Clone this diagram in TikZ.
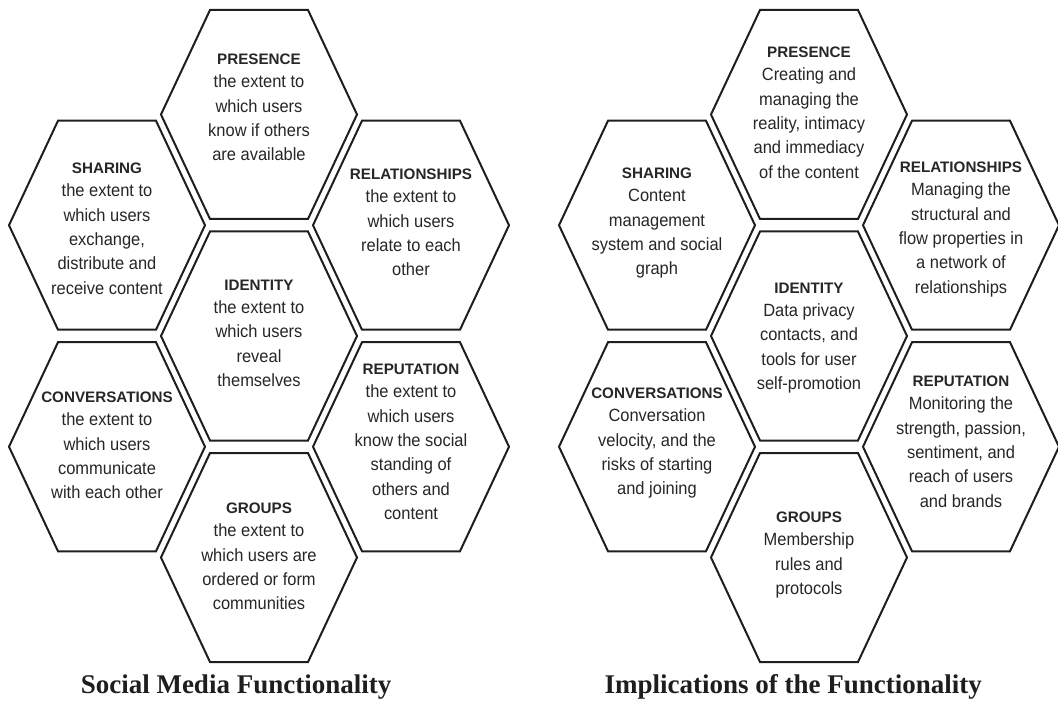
\documentclass[tikz,border=0pt]{standalone}
\usepackage{fontspec}
\setmainfont{Liberation Sans}
\newfontfamily\cellfam[FakeStretch=0.93]{Liberation Sans}
\newfontfamily\headfam{Liberation Sans}
\newfontfamily\titlefam{Liberation Serif}
\definecolor{ink}{HTML}{1E1E1E}
\definecolor{txt}{HTML}{262626}

% one honeycomb cell: name, centre x, centre y, top of heading, text
\newcommand\hexcell[5]{%
  \draw[hexedge] (#2-98,#3) -- (#2-49,#3-104.5) -- (#2+49,#3-104.5)
    -- (#2+98,#3) -- (#2+49,#3+104.5) -- (#2-49,#3+104.5) -- cycle;
  \node[hextext] (#1) at (#2,#4) {#5};
}
\newcommand\hd[1]{{\headfam\bfseries\fontsize{15.2}{24.4}\selectfont #1}\\[-1.5pt]}

\begin{document}
\begin{tikzpicture}[x=1pt,y=-1pt,
  hexedge/.style={draw=ink,line width=2pt,line join=miter},
  hextext/.style={anchor=north,align=center,inner sep=0pt,text=txt,
    font=\cellfam\fontsize{17.7}{24.4}\selectfont},
  title/.style={anchor=base,text=ink,font=\titlefam\bfseries\fontsize{27}{30}\selectfont}]
\useasboundingbox (0,0) rectangle (1058,703);

% ---- functionality honeycomb ----
\hexcell{presA}{259}{114.5}{54}{\hd{PRESENCE}the extent to\\which users\\know if others\\are available}
\hexcell{shareA}{107}{225.25}{163}{\hd{SHARING}the extent to\\which users\\exchange,\\distribute and\\receive content}
\hexcell{relA}{411}{225.25}{169}{\hd{RELATIONSHIPS}the extent to\\which users\\relate to each\\other}
\hexcell{identA}{259}{336}{280}{\hd{IDENTITY}the extent to\\which users\\reveal\\themselves}
\hexcell{convA}{107}{446.75}{392}{\hd{CONVERSATIONS}the extent to\\which users\\communicate\\with each other}
\hexcell{repA}{411}{446.75}{364}{\hd{REPUTATION}the extent to\\which users\\know the social\\standing of\\others and\\content}
\hexcell{groupA}{259}{557.5}{503}{\hd{GROUPS}the extent to\\which users are\\ordered or form\\communities}
\node[title] (titleA) at (236,693.3) {Social Media Functionality};

% ---- implications honeycomb ----
\hexcell{presB}{809}{114.5}{47}{\hd{PRESENCE}Creating and\\managing the\\reality, intimacy\\and immediacy\\of the content}
\hexcell{shareB}{657}{225.25}{168}{\hd{SHARING}Content\\management\\system and social\\graph}
\hexcell{relB}{961}{225.25}{162}{\hd{RELATIONSHIPS}Managing the\\structural and\\flow properties in\\a network of\\relationships}
\hexcell{identB}{809}{336}{283}{\hd{IDENTITY}Data privacy\\contacts, and\\tools for user\\self-promotion}
\hexcell{convB}{657}{446.75}{388}{\hd{CONVERSATIONS}Conversation\\velocity, and the\\risks of starting\\and joining}
\hexcell{repB}{961}{446.75}{376}{\hd{REPUTATION}Monitoring the\\strength, passion,\\sentiment, and\\reach of users\\and brands}
\hexcell{groupB}{809}{557.5}{512}{\hd{GROUPS}Membership\\rules and\\protocols}
\node[title] (titleB) at (793.3,693.3) {Implications of the Functionality};
\end{tikzpicture}
\end{document}
